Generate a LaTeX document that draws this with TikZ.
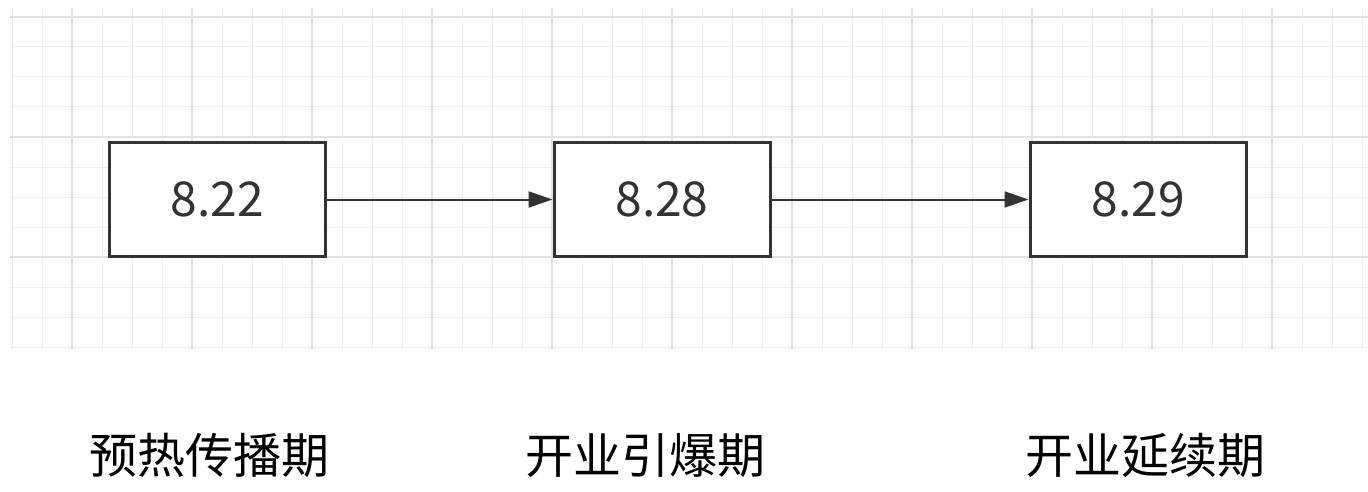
\documentclass[tikz,border=0pt]{standalone}
\usepackage{fontspec}
\setmainfont{Noto Sans CJK SC}
\usetikzlibrary{arrows.meta}
\definecolor{minorgrid}{HTML}{EFEFEF}
\definecolor{majorgrid}{HTML}{E2E2E2}
\definecolor{boxline}{HTML}{333333}
\tikzset{
  datebox/.style={draw=boxline, line width=3pt, fill=white, minimum width=216pt, minimum height=113pt,
    inner sep=0pt, text=boxline, font=\fontsize{48}{58}\selectfont},
  flow/.style={draw=boxline, line width=2pt, -{Triangle[length=24pt,width=16pt]}},
  phase/.style={text=black, inner sep=0pt, font=\fontsize{48}{58}\selectfont},
  minorline/.style={draw=minorgrid, line width=1pt},
  majorline/.style={draw=majorgrid, line width=1.2pt}
}
\begin{document}
\begin{tikzpicture}[x=1pt,y=-1pt]
\useasboundingbox (0,0) rectangle (1368,492);
\fill[white] (0,0) rectangle (1368,492);
% grid
\foreach \x in {12,42,...,1362} \draw[minorline] (\x,8) -- (\x,350);
\foreach \y in {17,47,...,347} \draw[minorline] (10,\y) -- (1368,\y);
\foreach \x in {72,192,...,1352} \draw[majorline] (\x,8) -- (\x,350);
\foreach \y in {17,137,257} \draw[majorline] (10,\y) -- (1368,\y);
% boxes
\node[datebox] (a) at (217.5,199.5) {8.22};
\node[datebox] (b) at (662,199.5) {8.28};
\node[datebox] (c) at (1138,199.5) {8.29};
\draw[flow] (a) -- (b);
\draw[flow] (b) -- (c);
% labels
\node[phase] (la) at (209,455) {预热传播期};
\node[phase] (lb) at (645,455) {开业引爆期};
\node[phase] (lc) at (1145,455) {开业延续期};
\end{tikzpicture}
\end{document}
